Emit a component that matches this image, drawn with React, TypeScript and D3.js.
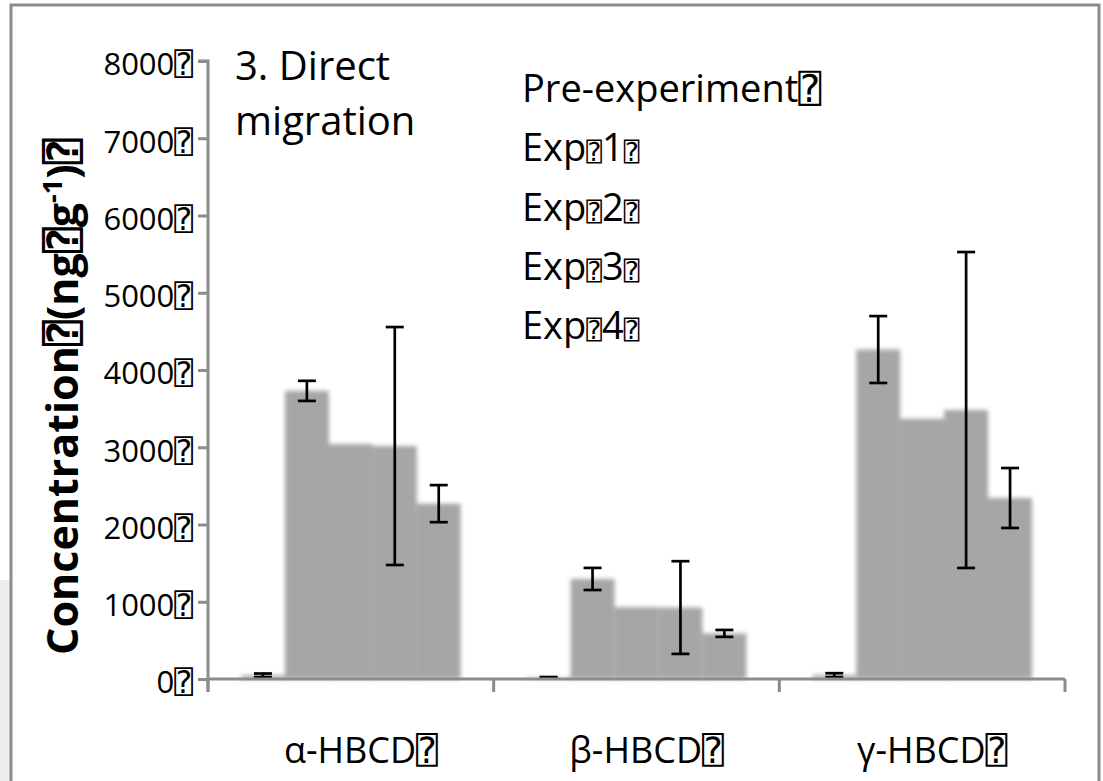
import React, { useEffect, useRef } from "react";
import * as d3 from "d3";

// missing-glyph box that shows up all over the original figure
const TOFU = "\u2370";

const categories = ["α-HBCD", "β-HBCD", "γ-HBCD"];
const seriesNames = ["Pre-experiment", "Exp1", "Exp2", "Exp3", "Exp4"];
const expNumbers = ["1", "2", "3", "4"];

// mean concentration per series, one entry per category
const preValues = [48, 18, 50];
const exp1Values = [3730, 1295, 4265];
const exp2Values = [3040, 930, 3370];
const exp3Values = [3016, 925, 3482];
const exp4Values = [2270, 590, 2343];

// error (+/-) per series, one entry per category
const preErrors = [23, 7, 25];
const exp1Errors = [130, 143, 433];
const exp2Errors = [0, 0, 0];
const exp3Errors = [1540, 600, 2045];
const exp4Errors = [240, 45, 388];

const yTicks = [0, 1000, 2000, 3000, 4000, 5000, 6000, 7000, 8000];

const App = () => {
  const d3Container = useRef(null);

  useEffect(() => {
    document.body.style.margin = "0";
    const svg = d3.select(d3Container.current);
    svg.selectAll("*").remove(); // Clear previous drawing

    const width = 1103;
    const height = 781;
    const font = "'Open Sans', 'DejaVu Sans Mono', 'DejaVu Sans', sans-serif";
    const axisColor = "#8c8c8c";

    svg.attr("width", width).attr("height", height);

    const values = [preValues, exp1Values, exp2Values, exp3Values, exp4Values];
    const errors = [preErrors, exp1Errors, exp2Errors, exp3Errors, exp4Errors];

    const x = d3.scaleBand().domain(categories).range([208, 1065]).padding(0);
    const xs = d3
      .scaleBand()
      .domain(seriesNames)
      .range([0, x.bandwidth()])
      .paddingInner(0)
      .paddingOuter(0.75);
    const y = d3.scaleLinear().domain([0, 8000]).range([679, 61]);

    // soft edges on the columns
    const defs = svg.append("defs");
    defs
      .append("filter")
      .attr("id", "soft")
      .attr("x", "-20%")
      .attr("y", "-20%")
      .attr("width", "140%")
      .attr("height", "140%")
      .append("feGaussianBlur")
      .attr("stdDeviation", 2);

    // light strip outside the frame, bottom left
    svg
      .append("rect")
      .attr("x", 0)
      .attr("y", 580)
      .attr("width", 10)
      .attr("height", height - 580)
      .attr("fill", "#ececec");

    // outer frame
    svg
      .append("path")
      .attr("d", `M11,${height} L11,5 L1099,5 L1099,${height}`)
      .attr("fill", "none")
      .attr("stroke", axisColor)
      .attr("stroke-width", 3);

    // bars
    const rows = [];
    categories.forEach((c, ci) => {
      seriesNames.forEach((s, si) => {
        rows.push({ c, s, v: values[si][ci], e: errors[si][ci] });
      });
    });

    svg
      .append("g")
      .attr("filter", "url(#soft)")
      .selectAll("rect")
      .data(rows)
      .enter()
      .append("rect")
      .attr("x", (d) => x(d.c) + xs(d.s))
      .attr("y", (d) => y(d.v))
      .attr("width", xs.bandwidth())
      .attr("height", (d) => y(0) - y(d.v))
      .attr("fill", "#a6a6a6");

    // error bars
    const eb = svg
      .append("g")
      .attr("stroke", "#000")
      .attr("stroke-width", 2.7)
      .selectAll("g")
      .data(rows.filter((d) => d.e > 0))
      .enter()
      .append("g");
    const cx = (d) => x(d.c) + xs(d.s) + xs.bandwidth() / 2;
    eb.append("line")
      .attr("x1", cx)
      .attr("x2", cx)
      .attr("y1", (d) => y(d.v + d.e))
      .attr("y2", (d) => y(d.v - d.e));
    eb.append("line")
      .attr("x1", (d) => cx(d) - 9)
      .attr("x2", (d) => cx(d) + 9)
      .attr("y1", (d) => y(d.v + d.e))
      .attr("y2", (d) => y(d.v + d.e));
    eb.append("line")
      .attr("x1", (d) => cx(d) - 9)
      .attr("x2", (d) => cx(d) + 9)
      .attr("y1", (d) => y(d.v - d.e))
      .attr("y2", (d) => y(d.v - d.e));

    // y axis
    const yAxis = d3.axisLeft(y).tickValues(yTicks).tickSize(10).tickFormat((d) => `${d}${TOFU}`);
    const gy = svg.append("g").attr("transform", "translate(208,0)").call(yAxis);
    gy.select(".domain").attr("stroke", axisColor).attr("stroke-width", 3).attr("d", `M-10,${y(8000)}H0V${y(0) + 12}`);
    gy.selectAll(".tick line").attr("stroke", axisColor).attr("stroke-width", 3);
    gy.selectAll(".tick text")
      .attr("x", -15)
      .attr("dy", "0.45em")
      .style("font-family", font)
      .style("font-size", "31px")
      .attr("fill", "#000");

    // x axis
    const gx = svg.append("g").attr("transform", `translate(0,${y(0)})`);
    gx.append("line")
      .attr("x1", x.range()[0])
      .attr("x2", x.range()[1])
      .attr("stroke", axisColor)
      .attr("stroke-width", 3);
    gx.selectAll(".cat-tick")
      .data([...categories.map((c) => x(c)), x.range()[1]])
      .enter()
      .append("line")
      .attr("x1", (d) => d)
      .attr("x2", (d) => d)
      .attr("y1", 0)
      .attr("y2", 13)
      .attr("stroke", axisColor)
      .attr("stroke-width", 3);
    gx.selectAll("text")
      .data(categories)
      .enter()
      .append("text")
      .attr("x", (d) => x(d) + x.bandwidth() / 2 + 10)
      .attr("y", 84)
      .attr("text-anchor", "middle")
      .style("font-family", font)
      .style("font-size", "36px")
      .text((d) => `${d}${TOFU}`);

    // y axis title
    const yt = svg
      .append("text")
      .attr("transform", "translate(78,655) rotate(-90)")
      .style("font-family", font)
      .style("font-size", "43px")
      .style("font-weight", "bold");
    yt.append("tspan").text(`Concentration${TOFU}(ng${TOFU}g`);
    yt.append("tspan").attr("dy", -16).style("font-size", "27px").text("-1");
    yt.append("tspan").attr("dy", 16).text(`)${TOFU}`);

    // panel title
    const title = svg
      .append("text")
      .style("font-family", font)
      .style("font-size", "40px");
    title.append("tspan").attr("x", 235).attr("y", 80).text("3. Direct");
    title.append("tspan").attr("x", 235).attr("y", 135).text("migration");

    // legend (text only)
    const legend = svg
      .append("g")
      .style("font-family", font)
      .style("font-size", "38px");
    legend.append("text").attr("x", 522).attr("y", 102).text(`Pre-experiment${TOFU}`);
    expNumbers.forEach((n, i) => {
      const t = legend.append("text").attr("x", 522).attr("y", 102 + (i + 1) * 59.3);
      t.append("tspan").text("Exp");
      t.append("tspan").style("font-size", "26px").text(TOFU);
      t.append("tspan").text(n);
      t.append("tspan").style("font-size", "26px").text(TOFU);
    });
  }, []);

  return <svg ref={d3Container} style={{ display: "block", background: "#fff" }} />;
};

export default App;
